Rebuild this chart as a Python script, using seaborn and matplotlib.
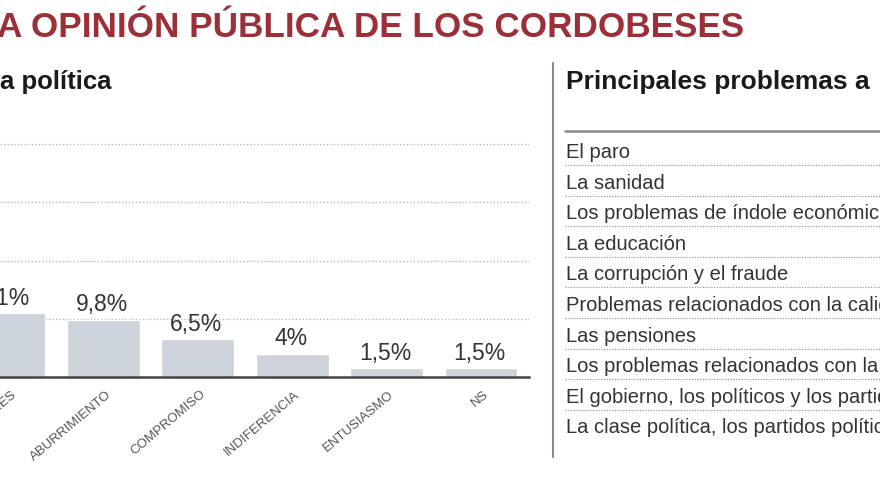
import matplotlib
matplotlib.use("Agg")
import matplotlib.pyplot as plt
import matplotlib.transforms as mtransforms
import seaborn as sns

# Left chart: feelings towards politics (left part of the chart is cropped)
categories = ["INTERÉS", "ABURRIMIENTO", "COMPROMISO", "INDIFERENCIA", "ENTUSIASMO", "NS"]
values = [11, 9.8, 6.5, 4, 1.5, 1.5]
value_labels = ["11%", "9,8%", "6,5%", "4%", "1,5%", "1,5%"]

# Right panel: main problems
problems = [
    "El paro",
    "La sanidad",
    "Los problemas de índole económica",
    "La educación",
    "La corrupción y el fraude",
    "Problemas relacionados con la calidad del empleo",
    "Las pensiones",
    "Los problemas relacionados con la juventud",
    "El gobierno, los políticos y los partidos",
    "La clase política, los partidos políticos",
]

title = "A OPINIÓN PÚBLICA DE LOS CORDOBESES"
left_subtitle = "a política"
right_subtitle = "Principales problemas a"

sns.set_theme(style="white")
plt.rcParams["font.family"] = ["Liberation Sans", "DejaVu Sans"]

W, H = 880, 495
fig = plt.figure(figsize=(W / 100, H / 100), dpi=100)

# bar chart axes, placed in pixels
base_y = 377
px_per_pct = 5.82
ax = fig.add_axes([0, (H - base_y) / H, 529 / W, 45 * px_per_pct / H])
sns.barplot(x=categories, y=values, color="#ccd3db", width=0.773,
            saturation=1, ax=ax, zorder=2)
step = 94.4
ax.set_xlim(-9 / step, (529 - 9) / step)
ax.set_ylim(0, 45)
ax.set_yticks([10, 20, 30, 40])
ax.set_yticklabels([])
ax.set_ylabel("")
ax.yaxis.grid(True, linestyle=(0, (1, 1.5)), color="#b8b8b8", lw=1, zorder=0)
ax.xaxis.grid(False)
for s in ["top", "left", "right"]:
    ax.spines[s].set_visible(False)
ax.spines["bottom"].set_color("#444444")
ax.spines["bottom"].set_linewidth(1.8)
ax.spines["bottom"].set_zorder(3)

for i, (v, lab) in enumerate(zip(values, value_labels)):
    ax.annotate(lab, (i, v), xytext=(-1, 2.5), textcoords="offset points",
                ha="center", va="bottom", fontsize=16.5, color="#333333")

ax.set_xticks(range(len(categories)))
ax.set_xticklabels(categories, rotation=40, ha="right", va="center",
                   rotation_mode="anchor", fontsize=9.5, color="#555555")
ax.tick_params(axis="x", length=0, pad=11.5)
shift = mtransforms.ScaledTranslation(6 / 100, 0, fig.dpi_scale_trans)
for lbl in ax.get_xticklabels():
    lbl.set_transform(lbl.get_transform() + shift)
ax.set_xlabel("")

# overlay axes in pixel coordinates for titles and the problems list
ov = fig.add_axes([0, 0, 1, 1])
ov.set_xlim(0, W)
ov.set_ylim(H, 0)
ov.axis("off")
ov.patch.set_alpha(0)

ov.text(-3, 37, title, fontsize=25.3, fontweight="bold", color="#9c2f37",
        va="baseline", ha="left")
ov.text(0, 89, left_subtitle, fontsize=18.5, fontweight="bold",
        color="#1a1a1a", va="baseline", ha="left")
ov.text(566, 89, right_subtitle, fontsize=19, fontweight="bold",
        color="#1a1a1a", va="baseline", ha="left")

# divider and table rules
ov.plot([553, 553], [63, 457], color="#8a8a8a", lw=1.5)
ov.plot([565, W], [131, 131], color="#8a8a8a", lw=1.8)

row_h = 30.6
for i, p in enumerate(problems):
    ov.text(566, 158 + i * row_h, p, fontsize=14.5, color="#333333",
            va="baseline", ha="left")
    if i < len(problems) - 1:
        yy = 165 + i * row_h
        ov.plot([565, W], [yy, yy], color="#9a9a9a", lw=0.9,
                linestyle=(0, (1, 1.2)))

fig.savefig("out.png", dpi=100)
